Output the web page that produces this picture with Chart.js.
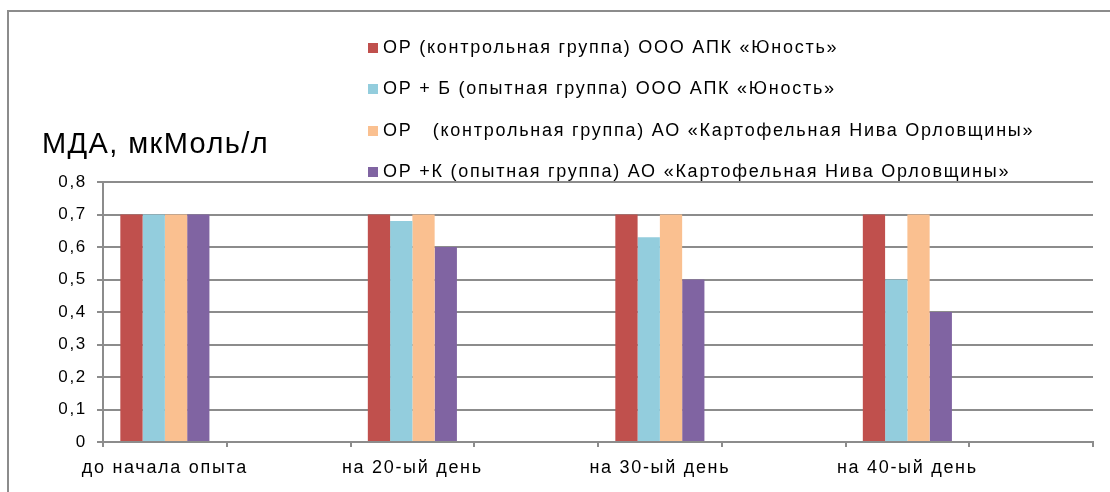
<!DOCTYPE html>
<html lang="ru">
<head>
<meta charset="utf-8">
<title>МДА, мкМоль/л</title>
<script src="https://cdn.jsdelivr.net/npm/chart.js@4/dist/chart.umd.min.js"></script>
<style>
  html, body { margin: 0; padding: 0; background: #fff; }
  #wrap { position: relative; width: 1110px; height: 492px; }
  canvas { display: block; }
</style>
</head>
<body>
<div id="wrap"><canvas id="chart" width="1110" height="492"></canvas></div>
<script>
// Categories: every other slot of the axis is an unlabeled empty category
const categories = ['до начала опыта', '', 'на 20-ый день', '', 'на 30-ый день', '', 'на 40-ый день', ''];

const seriesNames = [
  'ОР (контрольная группа) ООО АПК «Юность»',
  'ОР + Б (опытная группа) ООО АПК «Юность»',
  'ОР   (контрольная группа) АО «Картофельная Нива Орловщины»',
  'ОР +К (опытная группа) АО «Картофельная Нива Орловщины»'
];

const controlYunost  = [0.7, null, 0.7,  null, 0.7,  null, 0.7, null];
const expYunost      = [0.7, null, 0.68, null, 0.63, null, 0.5, null];
const controlNiva    = [0.7, null, 0.7,  null, 0.7,  null, 0.7, null];
const expNiva        = [0.7, null, 0.6,  null, 0.5,  null, 0.4, null];

const yTicks = ['0', '0,1', '0,2', '0,3', '0,4', '0,5', '0,6', '0,7', '0,8'];

const axisTitle = 'МДА, мкМоль/л';

const colors = ['#C0504D', '#93CDDD', '#FAC090', '#8064A2'];
const seriesValues = [controlYunost, expYunost, controlNiva, expNiva];

const FONT = '"Liberation Sans", Arial, sans-serif';
const GRID = '#8c8c8c';
const SPACING = '1.7px';

// Wide letter spacing for every text drawn on the canvas
const spacing = {
  id: 'spacing',
  beforeLayout(chart) { chart.ctx.letterSpacing = SPACING; },
  beforeDraw(chart) { chart.ctx.letterSpacing = SPACING; }
};

// Outer frame, axis title and legend drawn on the canvas
const decorations = {
  id: 'decorations',
  beforeDraw(chart) {
    const ctx = chart.ctx;
    ctx.save();
    ctx.strokeStyle = GRID;
    ctx.lineWidth = 2;
    ctx.beginPath();
    ctx.moveTo(8, 492);
    ctx.lineTo(8, 11);
    ctx.lineTo(1110, 11);
    ctx.stroke();
    ctx.restore();
  },
  afterDraw(chart) {
    const ctx = chart.ctx;
    ctx.save();
    ctx.fillStyle = '#000';
    ctx.letterSpacing = '1.4px';
    ctx.font = '29px ' + FONT;
    ctx.textBaseline = 'alphabetic';
    ctx.textAlign = 'left';
    ctx.fillText(axisTitle, 42, 153);

    const rows = [48, 89, 131, 172];
    ctx.letterSpacing = '1.75px';
    ctx.font = '18px ' + FONT;
    ctx.textBaseline = 'middle';
    chart.data.datasets.forEach((ds, i) => {
      ctx.fillStyle = ds.backgroundColor;
      ctx.fillRect(368, rows[i] - 5, 10, 10);
      ctx.fillStyle = '#000';
      ctx.fillText(ds.label, 383, rows[i]);
    });
    ctx.restore();
  }
};

new Chart(document.getElementById('chart'), {
  type: 'bar',
  data: {
    labels: categories,
    datasets: seriesNames.map((name, i) => ({
      label: name,
      data: seriesValues[i],
      backgroundColor: colors[i],
      borderWidth: 0,
      categoryPercentage: 0.72,
      barPercentage: 1.0
    }))
  },
  options: {
    responsive: false,
    animation: false,
    layout: { padding: { top: 182, right: 17, left: 0, bottom: 0 } },
    plugins: {
      legend: { display: false },
      tooltip: { enabled: false }
    },
    scales: {
      x: {
        offset: true,
        grid: {
          offset: true,
          drawOnChartArea: false,
          drawTicks: true,
          tickLength: 5,
          color: GRID,
          lineWidth: 2
        },
        border: { color: GRID, width: 2 },
        ticks: {
          autoSkip: false,
          maxRotation: 0,
          minRotation: 0,
          padding: 10,
          color: '#000',
          font: { family: FONT, size: 18 }
        },
        afterFit(scale) { scale.height = 50; }
      },
      y: {
        min: 0,
        max: 0.8,
        grid: {
          color: GRID,
          lineWidth: 2,
          drawTicks: true,
          tickLength: 6
        },
        border: { color: GRID, width: 2 },
        ticks: {
          stepSize: 0.1,
          padding: 10,
          color: '#000',
          font: { family: FONT, size: 17 },
          callback: (v, i) => yTicks[i]
        },
        afterFit(scale) { scale.width = 103; }
      }
    }
  },
  plugins: [spacing, decorations]
});
</script>
</body>
</html>
